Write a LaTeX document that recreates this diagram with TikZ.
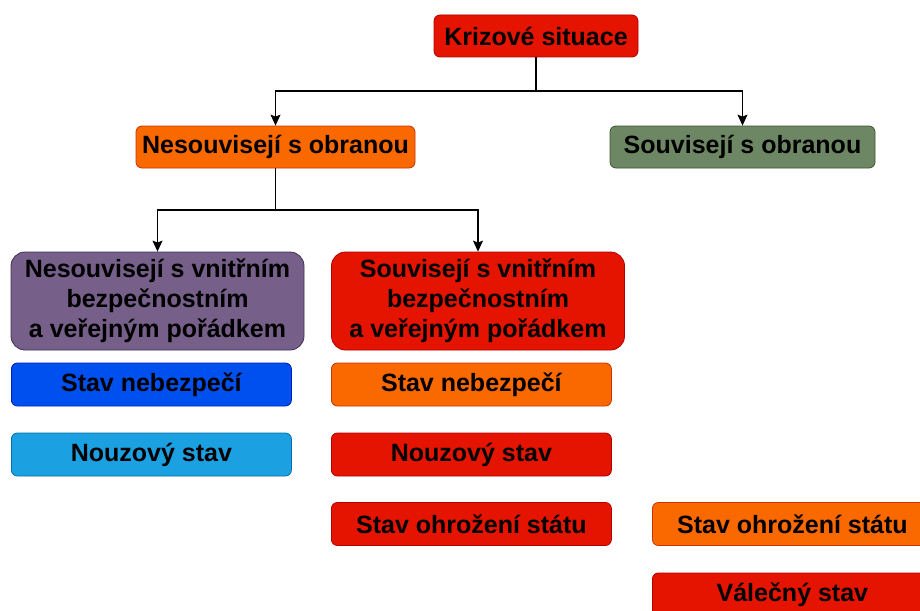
\documentclass[tikz,border=0pt]{standalone}
\usepackage{fontspec}
\setmainfont{Liberation Sans}
\usetikzlibrary{arrows.meta}
\definecolor{cred}{HTML}{E51400}\definecolor{credd}{HTML}{B20000}
\definecolor{corg}{HTML}{FA6800}\definecolor{corgd}{HTML}{C73500}
\definecolor{cgrn}{HTML}{6D8764}\definecolor{cgrnd}{HTML}{3A5431}
\definecolor{cpur}{HTML}{76608A}\definecolor{cpurd}{HTML}{432D57}
\definecolor{cblu}{HTML}{0050EF}\definecolor{cblud}{HTML}{001DBC}
\definecolor{clbl}{HTML}{1BA1E2}\definecolor{clbld}{HTML}{006EAF}
\tikzset{
  box/.style={draw, line width=0.8pt, rounded corners=6pt, inner sep=0pt, align=center,
    font=\fontsize{25}{30}\selectfont\bfseries, text=black},
  big/.style={box, rounded corners=14pt, minimum width=293pt, minimum height=98pt},
  small/.style={box, minimum width=280pt, minimum height=43pt},
  redb/.style={fill=cred, draw=credd},
  orgb/.style={fill=corg, draw=corgd},
  grnb/.style={fill=cgrn, draw=cgrnd},
  purb/.style={fill=cpur, draw=cpurd},
  blub/.style={fill=cblu, draw=cblud},
  lblb/.style={fill=clbl, draw=clbld},
  arr/.style={draw=black, line width=1.1pt, -{Stealth[length=11pt,width=10pt,inset=2pt]}}
}
\begin{document}
\begin{tikzpicture}[x=1pt,y=-1pt]
\useasboundingbox (0,0) rectangle (920,610);
\node[box, redb, minimum width=204pt, minimum height=42pt] (kriz) at (536,36) {Krizové situace};
\node[box, orgb, minimum width=279pt, minimum height=42pt] (neso) at (275.5,147) {Nesouvisejí s obranou};
\node[box, grnb, minimum width=265pt, minimum height=42pt] (sobr) at (742.5,147) {Souvisejí s obranou};
\node[big, purb] (nvn) at (157.5,301) {Nesouvisejí s vnitřním\\bezpečnostním\\a veřejným pořádkem};
\node[big, redb] (svn) at (478,301) {Souvisejí s vnitřním\\bezpečnostním\\a veřejným pořádkem};
\node[small, blub, anchor=west] (n1) at (11,384.5) {Stav nebezpečí};
\node[small, lblb, anchor=west] (n2) at (11,454.5) {Nouzový stav};
\node[small, orgb, anchor=west] (s1) at (331,384.5) {Stav nebezpečí};
\node[small, redb, anchor=west] (s2) at (331,454.5) {Nouzový stav};
\node[small, redb, anchor=west] (s3) at (331,524) {Stav ohrožení státu};
\node[small, orgb, anchor=west] (o1) at (652,524) {Stav ohrožení státu};
\node[small, redb, anchor=west] (o2) at (652,594.5) {Válečný stav};
\coordinate (j1) at (536,91);
\coordinate (j2) at (275.5,210);
\draw[arr] (kriz.south) -- (j1) -| (neso.north);
\draw[arr] (j1) -| (sobr.north);
\draw[arr] (neso.south) -- (j2) -| (nvn.north);
\draw[arr] (j2) -| (svn.north);
\end{tikzpicture}
\end{document}
